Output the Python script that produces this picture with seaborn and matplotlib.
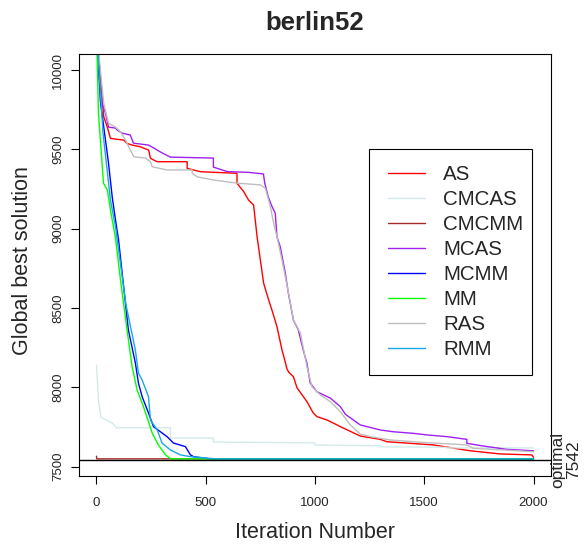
import numpy as np
import pandas as pd
import matplotlib
matplotlib.use("Agg")
import matplotlib.pyplot as plt
import seaborn as sns
from matplotlib.lines import Line2D
from matplotlib.legend_handler import HandlerLine2D
import matplotlib.transforms as mtransforms

# ---------------- data ----------------
series_names = ["AS", "CMCAS", "CMCMM", "MCAS", "MCMM", "MM", "RAS", "RMM"]
series_colors = ["#FF0000", "#D4EAEA", "#A52A2A", "#A020F0", "#0000FF", "#00FF00", "#BEBEBE", "#1AA7E6"]

as_iter = [0, 33, 49, 64, 125, 140, 163, 201, 239, 247, 278, 415, 415, 476, 643, 643, 674, 696, 719, 735,
           750, 765, 788, 803, 826, 849, 860, 872, 880, 901, 918, 963, 992, 1009, 1055, 1101, 1116, 1207, 1299, 1329,
           1541, 1710, 1847, 1992, 2000]
as_val = [10250, 9707, 9642, 9569, 9558, 9537, 9527, 9516, 9495, 9443, 9422, 9422, 9380, 9359, 9349, 9286, 9233, 9180, 9149, 8949,
          8802, 8656, 8550, 8487, 8382, 8235, 8180, 8115, 8095, 8067, 7996, 7910, 7838, 7815, 7794, 7763, 7752, 7693, 7672, 7657,
          7637, 7600, 7580, 7574, 7559]

cmcas_iter = [0, 9, 21, 50, 73, 91, 338, 338, 535, 535, 1000, 1000, 1300, 1300, 1600, 1600, 2000]
cmcas_val = [8140, 7920, 7810, 7790, 7775, 7745, 7745, 7680, 7680, 7655, 7650, 7636, 7632, 7625, 7622, 7618, 7618]

cmcmm_iter = [0, 1, 2000]
cmcmm_val = [7566, 7549, 7549]

mcas_iter = [0, 9, 26, 41, 55, 87, 95, 118, 155, 169, 238, 255, 293, 338, 535, 535, 598, 695, 764, 770,
             786, 803, 818, 826, 841, 864, 878, 901, 924, 946, 963, 978, 1009, 1070, 1116, 1139, 1207, 1299, 1358, 1449,
             1512, 1604, 1695, 1695, 1770, 1878, 2000]
mcas_val = [10250, 10000, 9791, 9729, 9640, 9634, 9621, 9602, 9590, 9539, 9527, 9514, 9483, 9451, 9445, 9388, 9360, 9355, 9345, 9287,
            9200, 9140, 9098, 8949, 8886, 8720, 8594, 8424, 8361, 8235, 8153, 8027, 7972, 7932, 7878, 7830, 7763, 7731, 7720, 7710,
            7700, 7689, 7672, 7647, 7630, 7609, 7600]

mcmm_iter = [0, 18, 55, 72, 87, 101, 146, 178, 192, 209, 238, 261, 323, 352, 407, 430, 444, 498, 521, 2000]
mcmm_val = [10250, 9800, 9414, 9200, 9055, 8929, 8361, 8153, 8027, 7941, 7838, 7752, 7689, 7649, 7626, 7574, 7563, 7553, 7549, 7549]

mm_iter = [0, 9, 32, 50, 64, 87, 110, 140, 163, 186, 215, 255, 283, 316, 338, 345, 2000]
mm_val = [10250, 9729, 9287, 9243, 9117, 8941, 8675, 8361, 8130, 7983, 7878, 7712, 7637, 7574, 7552, 7549, 7549]

ras_iter = [0, 33, 55, 87, 110, 133, 155, 171, 224, 247, 255, 323, 438, 438, 460, 535, 643, 750, 773, 796,
            811, 826, 849, 879, 902, 933, 963, 986, 1024, 1070, 1116, 1160, 1207, 1253, 1344, 1512, 1695, 1724, 2000]
ras_val = [10250, 9791, 9665, 9640, 9611, 9558, 9495, 9453, 9445, 9422, 9390, 9370, 9370, 9350, 9327, 9307, 9287, 9276, 9254, 9138,
           9033, 8949, 8802, 8593, 8424, 8342, 8130, 8004, 7952, 7910, 7846, 7765, 7706, 7689, 7668, 7651, 7637, 7616, 7594]

rmm_iter = [0, 30, 64, 87, 95, 135, 178, 192, 209, 238, 247, 278, 300, 338, 384, 430, 544, 2000]
rmm_val = [10250, 9600, 9180, 9010, 8929, 8520, 8235, 8090, 8046, 7941, 7794, 7731, 7649, 7605, 7574, 7563, 7549, 7549]

optimal = 7542
x_ticks = [0, 500, 1000, 1500, 2000]
y_ticks = [7500, 8000, 8500, 9000, 9500, 10000]

# ---------------- build long table ----------------
iters = [as_iter, cmcas_iter, cmcmm_iter, mcas_iter, mcmm_iter, mm_iter, ras_iter, rmm_iter]
vals = [as_val, cmcas_val, cmcmm_val, mcas_val, mcmm_val, mm_val, ras_val, rmm_val]
frames = []
for name, it, v in zip(series_names, iters, vals):
    frames.append(pd.DataFrame({"Algorithm": name, "Iteration": it, "Value": v}))
df = pd.concat(frames, ignore_index=True)
palette = dict(zip(series_names, series_colors))

# ---------------- plot ----------------
sns.set_theme(style="white")
plt.rcParams["font.family"] = ["Liberation Sans", "DejaVu Sans"]

fig = plt.figure(figsize=(5.84, 5.48), dpi=100)
ax = fig.add_axes([79 / 584, 1 - 476 / 548, 472 / 584, 422 / 548])

sns.lineplot(data=df, x="Iteration", y="Value", hue="Algorithm", hue_order=series_names,
             palette=palette, estimator=None, sort=False, linewidth=1.0, ax=ax)

ax.axhline(optimal, color="black", linewidth=1.0, zorder=5)

ax.set_xlim(-80, 2080)
ax.set_ylim(7441, 10101)
ax.set_xticks(x_ticks)
ax.set_yticks(y_ticks)
ax.tick_params(axis="both", which="major", direction="out", length=5.8, width=0.8,
               color="black", labelsize=9.5, bottom=True, left=True)
ax.tick_params(axis="x", pad=9.5)
ax.tick_params(axis="y", pad=5, labelrotation=90)
for lab in ax.get_yticklabels():
    lab.set_verticalalignment("center")

for sp in ax.spines.values():
    sp.set_color("black")
    sp.set_linewidth(0.8)

ax.set_title("berlin52", fontsize=18.5, fontweight="bold", pad=17.5)
ax.set_xlabel("Iteration Number", fontsize=15.5)
ax.set_ylabel("Global best solution", fontsize=15.5)
ax.xaxis.set_label_coords(0.5, -0.108)
ax.yaxis.set_label_coords(-0.098, 0.51)

trans = mtransforms.blended_transform_factory(ax.transAxes, ax.transData)
ax.text(1.0315, optimal, "optimal\n7542", rotation=90, ha="center", va="center",
        multialignment="center", fontsize=12.5, transform=trans, linespacing=1.1)

# legend
x0 = (369 - 79) / 472
x1 = (532 - 79) / 472
y1 = (476 - 149) / 422
y0 = (476 - 373) / 422
sns.move_legend(ax, "upper left", bbox_to_anchor=(x0, y0, x1 - x0, y1 - y0), mode="expand",
                title=None, frameon=True, fancybox=False, framealpha=1, fontsize=14.8,
                borderpad=0.79, labelspacing=0.29, handlelength=1.95, handletextpad=0.87,
                borderaxespad=0, handler_map={Line2D: HandlerLine2D(xpad=0.13)})
leg = ax.get_legend()
leg.get_frame().set_edgecolor("black")
leg.get_frame().set_linewidth(0.8)
for h in leg.get_lines():
    h.set_linewidth(1.0)

fig.savefig("out.png", dpi=100)
